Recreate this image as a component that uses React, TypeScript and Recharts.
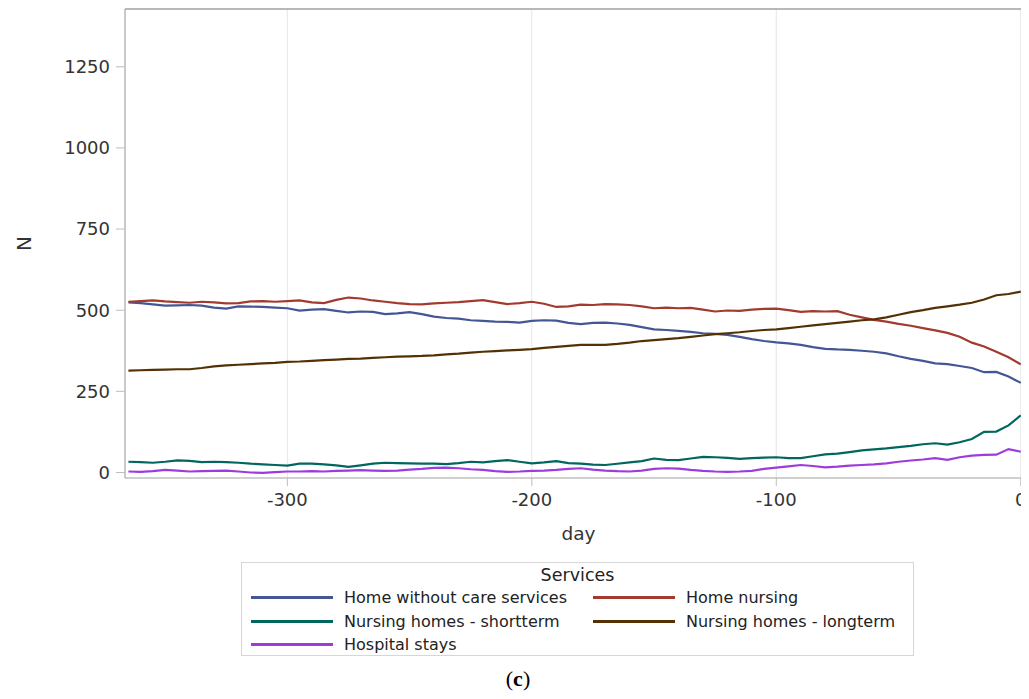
import React from 'react';
import { LineChart, Line, XAxis, YAxis, CartesianGrid, ReferenceLine } from 'recharts';

const days: number[] = [];
for (let d = -365; d <= 0; d += 5) days.push(d);

const homeWithout = [
  524, 522, 518, 514, 515, 516, 514, 508, 505, 512,
  511, 510, 508, 506, 499, 502, 503, 498, 493, 496,
  495, 488, 490, 494, 488, 480, 476, 474, 469, 467,
  465, 464, 462, 467, 469, 468, 461, 457, 461, 462,
  459, 455, 448, 441, 439, 436, 433, 429, 427, 424,
  418, 411, 405, 401, 398, 393, 386, 381, 379, 378,
  375, 372, 367, 358, 350, 344, 336, 334, 328, 322,
  309, 310, 296, 276,
];
const homeNursing = [
  526, 528, 530, 527, 525, 523, 526, 524, 521, 522,
  527, 528, 526, 528, 530, 524, 522, 532, 539, 536,
  530, 526, 522, 519, 518, 521, 523, 525, 528, 531,
  525, 519, 522, 526, 520, 510, 512, 517, 516, 519,
  518, 516, 512, 506, 508, 506, 507, 502, 496, 499,
  498, 502, 504, 505, 500, 495, 497, 496, 497, 486,
  478, 470, 465, 458, 452, 445, 438, 430, 418, 400,
  388, 372, 355, 333,
];
const shortTerm = [
  33, 32, 30, 33, 37, 36, 32, 33, 32, 30,
  27, 25, 23, 21, 27, 27, 25, 22, 17, 22,
  27, 30, 29, 28, 27, 27, 26, 29, 33, 31,
  35, 38, 33, 28, 31, 35, 29, 27, 24, 23,
  27, 31, 35, 43, 39, 38, 43, 48, 47, 45,
  42, 44, 46, 47, 44, 44, 50, 56, 58, 63,
  68, 71, 74, 78, 82, 87, 90, 86, 93, 103,
  125, 126, 145, 176,
];
const longTerm = [
  314, 315, 316, 317, 318, 318, 322, 327, 330, 332,
  334, 336, 338, 341, 342, 344, 346, 348, 350, 351,
  353, 355, 357, 358, 359, 361, 364, 366, 369, 372,
  374, 376, 378, 380, 384, 387, 390, 393, 393, 393,
  396, 400, 405, 408, 411, 414, 418, 422, 426, 429,
  432, 436, 439, 441, 445, 449, 453, 457, 461, 465,
  469, 472, 478, 486, 494, 500, 507, 512, 517, 523,
  533, 546, 550, 557,
];
const hospital = [
  3, 2, 4, 8, 6, 3, 4, 5, 6, 3,
  0, -1, 1, 3, 3, 4, 3, 5, 6, 7,
  6, 5, 6, 9, 11, 14, 15, 13, 10, 8,
  4, 2, 3, 5, 6, 8, 11, 13, 9, 6,
  4, 3, 6, 11, 13, 12, 8, 5, 3, 2,
  3, 5, 11, 15, 19, 23, 20, 16, 18, 21,
  23, 25, 28, 33, 37, 40, 44, 39, 47, 52,
  54, 55, 72, 64,
];

const xTicks = [-300, -200, -100, 0];
const yTicks = [0, 250, 500, 750, 1000, 1250];
const X_MIN = -366.4;
const X_MAX = 4.6;
const Y_MIN = -17;
const Y_MAX = 1428;

const series = [
  { key: 'hw', name: 'Home without care services', color: '#445694', values: homeWithout },
  { key: 'hn', name: 'Home nursing', color: '#A23A2E', values: homeNursing },
  { key: 'st', name: 'Nursing homes - shortterm', color: '#01665E', values: shortTerm },
  { key: 'lt', name: 'Nursing homes - longterm', color: '#543005', values: longTerm },
  { key: 'hs', name: 'Hospital stays', color: '#9D3CDB', values: hospital },
];

const data = days.map((d, i) => {
  const row: Record<string, number> = { day: d };
  series.forEach((s) => { row[s.key] = s.values[i]; });
  return row;
});

const FONT = '"DejaVu Sans", Verdana, sans-serif';

const YLabel = (props: any) => {
  const vb = props.viewBox || {};
  const cx = vb.x + 16;
  const cy = vb.y + vb.height / 2;
  return (
    <text x={cx} y={cy} transform={`rotate(-90 ${cx} ${cy})`} textAnchor="middle" dominantBaseline="central"
      fontSize={20} fill="#333" fontFamily={FONT}>N</text>
  );
};

export default function App() {
  return (
    <div style={{ position: 'relative', width: 1021, height: 691, overflow: 'hidden', fontFamily: FONT }}>
      <LineChart width={1024} height={540} data={data} margin={{ top: 1, right: 0, bottom: 8, left: 0 }}>
        <CartesianGrid horizontal={false} stroke="#e6e6e6" strokeWidth={1} />
        <XAxis dataKey="day" type="number" domain={[X_MIN, X_MAX]} ticks={xTicks} allowDataOverflow
          height={62} tickSize={8} tickMargin={7} stroke="#a0a0a0"
          tickLine={{ stroke: '#bdbdbd' }}
          tick={{ fontSize: 18, fill: '#333', fontFamily: FONT }}
          label={{ value: 'day', position: 'insideBottom', offset: 0, fontSize: 18.5, fill: '#333', fontFamily: FONT }} />
        <YAxis type="number" domain={[Y_MIN, Y_MAX]} ticks={yTicks} allowDataOverflow width={117}
          tickSize={9} tickMargin={6} stroke="#a0a0a0"
          tickLine={{ stroke: '#bdbdbd' }}
          tick={{ fontSize: 18, fill: '#333', fontFamily: FONT }}
          label={<YLabel />} />
        <ReferenceLine y={Y_MAX} stroke="#a0a0a0" strokeWidth={1.5} ifOverflow="visible" />
        {series.map((s) => (
          <Line key={s.key} dataKey={s.key} name={s.name} stroke={s.color} strokeWidth={2.2}
            dot={false} type="linear" isAnimationActive={false} />
        ))}
      </LineChart>
      <div style={{ position: 'absolute', left: 233, top: 554, width: 671, height: 92, border: '1px solid #d6d6d6',
        boxSizing: 'content-box', fontFamily: FONT, color: '#222' }}>
        <div style={{ textAlign: 'center', fontSize: 17.5, lineHeight: '22px', marginTop: 1 }}>Services</div>
        <div style={{ display: 'grid', gridTemplateColumns: '342px 329px', marginTop: 0 }}>
          {series.map((s) => (
            <div key={s.key} style={{ height: 23.5, display: 'flex', alignItems: 'center' }}>
              <span style={{ display: 'inline-block', width: 82, height: 3, background: s.color, marginLeft: 9, marginRight: 11, flexShrink: 0 }} />
              <span style={{ fontSize: 16, whiteSpace: 'nowrap' }}>{s.name}</span>
            </div>
          ))}
        </div>
      </div>
      <div style={{ position: 'absolute', left: 0, width: 1020, top: 658, textAlign: 'center',
        fontFamily: '"Liberation Serif", "Times New Roman", serif', fontSize: 22, color: '#000' }}>
        (<b>c</b>)
      </div>
    </div>
  );
}
